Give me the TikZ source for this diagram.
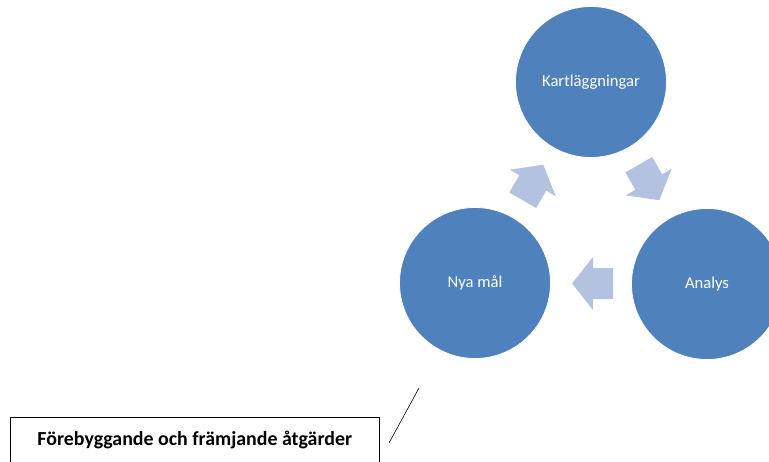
\documentclass[tikz,border=0pt]{standalone}
\usepackage{fontspec}
\setmainfont{Carlito}
\definecolor{cblue}{HTML}{4F81BD}
\definecolor{ablue}{HTML}{B3C3DF}
\begin{document}
\begin{tikzpicture}[x=1pt,y=-1pt,
  cyc/.style={circle,fill=cblue,draw=white,line width=0.8pt,minimum size=151pt,inner sep=0pt,text=white,font=\fontsize{16.6}{18}\selectfont},
  blockarrow/.style={fill=ablue,draw=none},
  label/.style={draw=black,line width=0.6pt,minimum width=369pt,minimum height=46pt,inner sep=0pt,anchor=north west,font=\fontsize{19.9}{22}\selectfont\bfseries}]
\useasboundingbox (0,0) rectangle (769,461);
\node[cyc] (k) at (591,82) {Kartläggningar};
\node[cyc] (n) at (475,283) {Nya mål};
\node[cyc] (a) at (707,284) {Analys};
\foreach \cx/\cy/\rot in {592.5/283.5/180, 533/182.5/60, 649/182.5/-60}{
  \fill[blockarrow,shift={(\cx,\cy)},rotate=\rot]
    (-20.5,-15.5) -- (-0.5,-15.5) -- (-0.5,-26.5) -- (20.5,0) -- (-0.5,26.5) -- (-0.5,15.5) -- (-20.5,15.5) -- cycle;
}
\node[label] (t) at (10,417) {Förebyggande och främjande åtgärder};
\coordinate (l1) at (419,388);
\coordinate (l2) at (389,443);
\draw[line width=0.6pt] (l1) -- (l2);
\end{tikzpicture}
\end{document}
